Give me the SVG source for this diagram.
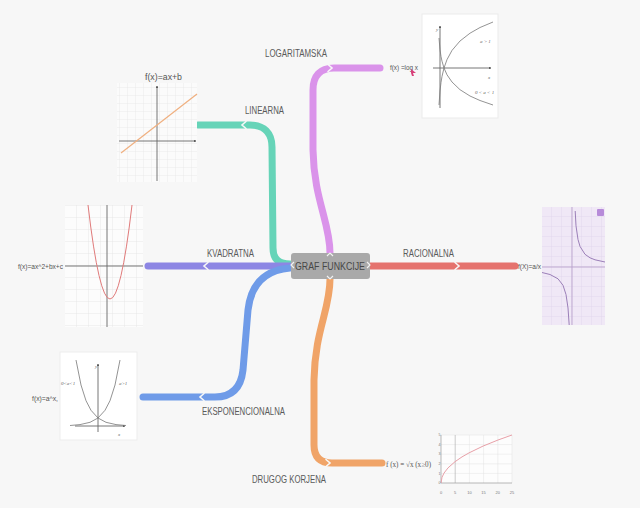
<svg xmlns="http://www.w3.org/2000/svg" width="640" height="508" viewBox="0 0 640 508">
<style>
.lbl{font-family:"Liberation Sans Narrow","Liberation Sans",Arial,sans-serif;font-size:10px;fill:#5a5a5a}
.fx{font-family:"Liberation Sans Narrow","Liberation Sans",Arial,sans-serif;font-size:8px;fill:#555}
.tiny{font-family:"Liberation Serif",serif;font-style:italic;font-size:5px;fill:#666}
.tick{font-family:"Liberation Sans",sans-serif;font-size:4px;fill:#777}
.br{fill:none;stroke-width:7;stroke-linecap:round;stroke-linejoin:round}
.notch{fill:none;stroke:#f7f7f7;stroke-width:1.6;stroke-linecap:round}
.axis{stroke:#666;stroke-width:0.9;fill:none}
.curve{fill:none;stroke:#777;stroke-width:0.8}
</style>
<defs>
<pattern id="g8" width="8" height="8" patternUnits="userSpaceOnUse"><path d="M8 0V8H0" fill="none" stroke="#e3e3e3" stroke-width="0.6"/></pattern>
<pattern id="g12" width="12" height="12" patternUnits="userSpaceOnUse" x="5" y="2"><path d="M12 0V12H0" fill="none" stroke="#dcdcdc" stroke-width="0.6"/></pattern>
<pattern id="gp" width="10" height="10" patternUnits="userSpaceOnUse" x="2" y="7"><path d="M10 0V10H0" fill="none" stroke="#dccbe8" stroke-width="0.6"/></pattern>
<marker id="ah" viewBox="0 0 6 6" refX="5" refY="3" markerWidth="3" markerHeight="3" orient="auto"><path d="M0 0L6 3L0 6Z" fill="#555"/></marker>
</defs>
<rect x="0" y="0" width="640" height="508" fill="#f7f7f7"/>

<g id="connectors">
<path class="br" stroke="#66d4b8" d="M290 264 C280 264 273 260 273 248 L272 147 C272 133 264 125 250 125 L198 125"/>
<path class="br" stroke="#da93ea" d="M330 253 C330 222 314 200 313 150 L313 90 C313 76 320 68 334 68 L380 68"/>
<path class="br" stroke="#8d86e4" d="M290 266 L148 266"/>
<path class="br" stroke="#6f9be8" d="M290 268 C265 270 251 284 248 310 L243 370 C241 388 232 397 215 397 L143 397"/>
<path class="br" stroke="#e5736e" d="M370 266 L515 266"/>
<path class="br" stroke="#f0a468" d="M330 279 C330 310 315 330 314 380 L314 445 C314 457 320 463 332 463 L382 463"/>
<polyline class="notch" points="246,121.5 242,125 246,128.5"/>
<polyline class="notch" points="328,64.5 332,68 328,71.5"/>
<polyline class="notch" points="208,262.5 204,266 208,269.5"/>
<polyline class="notch" points="204,393.5 200,397 204,400.5"/>
<polyline class="notch" points="455,262.5 459,266 455,269.5"/>
<polyline class="notch" points="326,459.5 330,463 326,466.5"/>
</g>

<g id="center">
<rect x="291" y="253" width="79" height="26" rx="3" fill="#a9a9a9"/>
<polyline points="294,262 291,265 294,268" fill="none" stroke="#f2f2f2" stroke-width="1.2"/>
<polyline points="367,262 370,265 367,268" fill="none" stroke="#f2f2f2" stroke-width="1.2"/>
<polyline points="327,256 330,253 333,256" fill="none" stroke="#f2f2f2" stroke-width="1.2"/>
<polyline points="327,276 330,279 333,276" fill="none" stroke="#f2f2f2" stroke-width="1.2"/>
<text class="lbl" x="295" y="270" textLength="70" lengthAdjust="spacingAndGlyphs" style="fill:#474747">GRAF FUNKCIJE</text>
</g>

<g id="linearna">
<text class="lbl" x="245" y="114" textLength="39" lengthAdjust="spacingAndGlyphs">LINEARNA</text>
<text class="fx" x="145" y="80" style="font-size:9px" textLength="37" lengthAdjust="spacingAndGlyphs">f(x)=ax+b</text>
<rect x="117" y="83" width="80" height="99" fill="#fbfbfb"/>
<rect x="117" y="83" width="80" height="99" fill="url(#g8)"/>
<line class="axis" x1="119" y1="141" x2="196" y2="141" marker-end="url(#ah)"/>
<line class="axis" x1="157" y1="181" x2="157" y2="86" marker-end="url(#ah)"/>
<line x1="121" y1="153" x2="197" y2="94" stroke="#f0b080" stroke-width="1.2"/>
</g>

<g id="logaritamska">
<text class="lbl" x="265" y="57" textLength="62" lengthAdjust="spacingAndGlyphs">LOGARITAMSKA</text>
<text class="fx" x="390" y="70" textLength="28" lengthAdjust="spacingAndGlyphs">f(x) =log x</text>
<polygon points="411,69 416,73 413,73 414,76 412,76 411,73" fill="#d8407a"/>
<rect x="422" y="14" width="76" height="104" fill="#ffffff" stroke="#ebebeb" stroke-width="1"/>
<line class="axis" x1="440" y1="108" x2="440" y2="26" marker-end="url(#ah)"/>
<line class="axis" x1="433" y1="68" x2="491" y2="68" marker-end="url(#ah)"/>
<path class="curve" d="M439 105 L440 91 L441 82.4 L442 76.4 L444 68 L447 59.6 L452 50.4 L460 41 L470 33.2 L480 27.5 L493 22"/>
<path class="curve" d="M439 38 L440 49.6 L441 56.5 L442 61.2 L444 68 L447 74.8 L452 82 L460 89.7 L470 96 L480 100.5 L493 105"/>
<text class="tiny" x="436" y="31">y</text>
<text class="tiny" x="488" y="79">x</text>
<text class="tiny" x="480" y="43">a &gt; 1</text>
<text class="tiny" x="475" y="94">0 &lt; a &lt; 1</text>
</g>

<g id="kvadratna">
<text class="lbl" x="207" y="257" textLength="47" lengthAdjust="spacingAndGlyphs">KVADRATNA</text>
<text class="fx" x="18" y="269" textLength="45" lengthAdjust="spacingAndGlyphs">f(x)=ax^2+bx+c</text>
<rect x="65" y="205" width="78" height="122" fill="#fcfcfc"/>
<rect x="65" y="205" width="78" height="122" fill="url(#g12)"/>
<line class="axis" x1="65" y1="266" x2="143" y2="266"/>
<line class="axis" x1="107" y1="205" x2="107" y2="327"/>
<path d="M88 205 Q110 393 132 205" fill="none" stroke="#e07a7a" stroke-width="1"/>
</g>

<g id="racionalna">
<text class="lbl" x="403" y="257" textLength="51" lengthAdjust="spacingAndGlyphs">RACIONALNA</text>
<text class="fx" x="518" y="269" textLength="23" lengthAdjust="spacingAndGlyphs">f(X)=a/x</text>
<rect x="542" y="207" width="63" height="118" fill="#f0e8f6"/>
<rect x="542" y="207" width="63" height="118" fill="url(#gp)"/>
<line x1="542" y1="267" x2="605" y2="267" stroke="#b9a3cc" stroke-width="0.9"/>
<line x1="572" y1="207" x2="572" y2="325" stroke="#b9a3cc" stroke-width="0.9"/>
<path d="M575.2 211 L576 225.8 L578 239.5 L580 246.4 L585 254.3 L590 257.8 L595 259.8 L605 262" fill="none" stroke="#9b7fb8" stroke-width="1"/>
<path d="M542 272.5 L550 274.5 L558 278.8 L563 285.3 L566 294.5 L568 308 L569.2 325" fill="none" stroke="#9b7fb8" stroke-width="1"/>
<rect x="597" y="209" width="7" height="7" rx="1" fill="#b78bd9"/>
</g>

<g id="eksponencionalna">
<text class="lbl" x="202" y="415" textLength="83" lengthAdjust="spacingAndGlyphs">EKSPONENCIONALNA</text>
<text class="fx" x="32" y="401" textLength="26" lengthAdjust="spacingAndGlyphs">f(x)=a^x,</text>
<rect x="60" y="352" width="77" height="88" fill="#ffffff" stroke="#ededed" stroke-width="1"/>
<line class="axis" x1="98" y1="432" x2="98" y2="364" marker-end="url(#ah)"/>
<line class="axis" x1="75" y1="426" x2="125" y2="426" marker-end="url(#ah)"/>
<path class="curve" d="M70 425.5 L80 424.6 L90 422.3 L98 418 L105 410.3 L110 400.7 L115 385 L120 360"/>
<path class="curve" d="M76 360 L81 385 L86 400.7 L91 410.3 L98 418 L106 422.3 L116 424.6 L126 425.5"/>
<text class="tiny" x="95" y="368">y</text>
<text class="tiny" x="118" y="436">x</text>
<text class="tiny" x="61" y="385">0&lt;a&lt;1</text>
<text class="tiny" x="119" y="385">a&gt;1</text>
</g>

<g id="drugog-korjena">
<text class="lbl" x="252" y="483" textLength="74" lengthAdjust="spacingAndGlyphs">DRUGOG KORJENA</text>
<text x="386" y="467" textLength="45" lengthAdjust="spacingAndGlyphs" style="font-family:'Liberation Serif',serif;font-size:7.5px;fill:#555">f (x) = √x (x≥0)</text>
<rect x="441" y="435" width="71" height="48" fill="#fdfdfd"/>
<g stroke="#e2e2e2" stroke-width="0.5">
<line x1="441" y1="435" x2="512" y2="435"/><line x1="441" y1="444.6" x2="512" y2="444.6"/><line x1="441" y1="454.2" x2="512" y2="454.2"/><line x1="441" y1="463.8" x2="512" y2="463.8"/><line x1="441" y1="473.4" x2="512" y2="473.4"/>
<line x1="469.4" y1="435" x2="469.4" y2="483"/><line x1="483.6" y1="435" x2="483.6" y2="483"/><line x1="497.8" y1="435" x2="497.8" y2="483"/><line x1="512" y1="435" x2="512" y2="483"/>
</g>
<line x1="441" y1="483" x2="512" y2="483" stroke="#999" stroke-width="0.7"/>
<line x1="441" y1="435" x2="441" y2="483" stroke="#999" stroke-width="0.7"/>
<line x1="455.2" y1="435" x2="455.2" y2="483" stroke="#aaa" stroke-width="0.6"/>
<path d="M441 483 L442 477.3 L444 473.1 L448 467.9 L455 461.7 L462 456.9 L469 452.9 L483 446.1 L498 440 L512 435" fill="none" stroke="#e8a0a8" stroke-width="1"/>
<g class="tick" text-anchor="middle">
<text x="441" y="494">0</text><text x="455.2" y="494">5</text><text x="469.4" y="494">10</text><text x="483.6" y="494">15</text><text x="497.8" y="494">20</text><text x="512" y="494">25</text>
</g>
<g class="tick" text-anchor="end" style="font-size:3.5px">
<text x="440.5" y="484.2">0</text><text x="440.5" y="474.6">1</text><text x="440.5" y="465">2</text><text x="440.5" y="455.4">3</text><text x="440.5" y="445.8">4</text><text x="440.5" y="436.2">5</text>
</g>
</g>
</svg>
